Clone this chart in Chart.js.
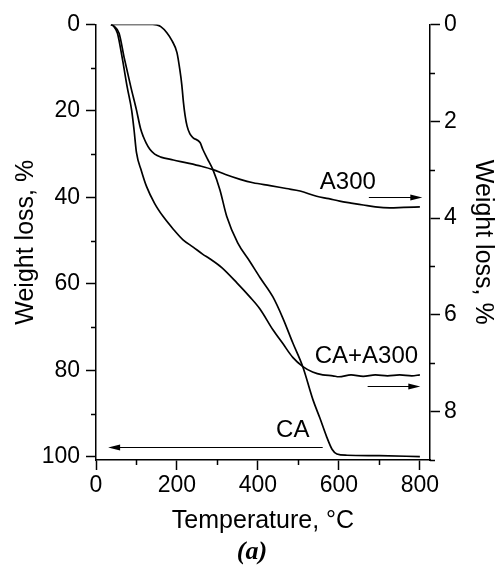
<!DOCTYPE html>
<html>
<head>
<meta charset="utf-8">
<script src="https://cdn.jsdelivr.net/npm/chart.js@4.4.1/dist/chart.umd.min.js"></script>
<style>
  html, body { margin: 0; padding: 0; background: #fff; }
  canvas { display: block; }
</style>
</head>
<body>
<canvas id="c" width="495" height="565"></canvas>
<script>
// ---------- data ----------
// CA : weight loss, % (left axis)
const caT = [37, 100, 140, 150, 160, 175, 188, 200, 207, 212, 216, 220, 225, 232, 240, 257, 264, 275, 289, 306, 323, 350, 380, 405, 437, 462, 486, 511, 536, 553, 570, 583, 595, 620, 700, 800];
const caW = [0, 0, 0, 0.1, 0.5, 1.9, 3.8, 6.5, 10.4, 14, 18, 21, 23.5, 25.3, 26.2, 27.3, 28.9, 31.0, 33.6, 38.2, 44.4, 50.5, 54.8, 58.5, 63, 68, 73.6, 79.2, 86.8, 91, 95.4, 98.2, 99.3, 99.6, 99.7, 99.9];

// A300 : weight loss, % (right axis)
const a300T = [37, 45, 57, 70, 86, 100, 110, 117, 124, 133, 145, 160, 191, 230, 260, 289, 320, 356, 388, 430, 470, 504, 545, 575, 602, 630, 660, 690, 726, 760, 800];
const a300W = [0, 0.04, 0.18, 0.7, 1.29, 1.77, 2.15, 2.32, 2.45, 2.58, 2.68, 2.74, 2.80, 2.87, 2.93, 3.0, 3.1, 3.2, 3.27, 3.33, 3.39, 3.44, 3.55, 3.6, 3.65, 3.69, 3.73, 3.77, 3.79, 3.78, 3.77];

// CA+A300 : weight loss, % (right axis)
const mixT = [37, 44, 53, 65, 77, 88, 94, 100, 112, 125, 145, 166, 190, 215, 240, 264, 281, 310, 348, 380, 405, 437, 462, 486, 511, 535, 560, 585, 600, 630, 660, 690, 720, 750, 780, 800];
const mixW = [0, 0.04, 0.18, 0.7, 1.29, 1.77, 2.18, 2.65, 3.02, 3.35, 3.7, 3.97, 4.22, 4.45, 4.6, 4.75, 4.84, 5.02, 5.34, 5.63, 5.88, 6.31, 6.6, 6.88, 7.07, 7.18, 7.24, 7.26, 7.28, 7.24, 7.27, 7.24, 7.26, 7.24, 7.26, 7.24];

// tick labels
const xTicks = [0, 200, 400, 600, 800];
const xMinor = [100, 300, 500, 700];
const leftTicks = [0, 20, 40, 60, 80, 100];
const leftMinor = [10, 30, 50, 70, 90];
const rightTicks = [0, 2, 4, 6, 8];
const rightMinor = [1, 3, 5, 7, 9];

// curve labels
const curveLabels = ['A300', 'CA+A300', 'CA'];

// ---------- chart ----------
const FONT = '"Liberation Sans", Arial, Helvetica, sans-serif';
const pts = (t, w) => t.map((v, i) => ({x: v, y: w[i]}));

// annotation placement (data coordinates)
const annotations = [
  {text: curveLabels[0], x: 622, y: 3.27, axis: 'yR', arrow: {from: 674, to: 806, y: 3.56}},
  {text: curveLabels[1], x: 668, y: 6.86, axis: 'yR', arrow: {from: 671, to: 801, y: 7.48}},
  {text: curveLabels[2], x: 486, y: 93.8, axis: 'yL', arrow: {from: 560, to: 30, y: 97.8}}
];

const extras = {
  id: 'extras',
  afterDraw(chart) {
    const {ctx} = chart;
    const {x, yL, yR} = chart.scales;
    ctx.save();
    ctx.strokeStyle = '#000';
    ctx.lineWidth = 1.5;
    // minor ticks
    ctx.beginPath();
    xMinor.forEach(v => {
      const p = Math.round(x.getPixelForValue(v)) + 0.5;
      ctx.moveTo(p, x.top); ctx.lineTo(p, x.top + 5);
    });
    leftMinor.forEach(v => {
      const p = Math.round(yL.getPixelForValue(v)) + 0.5;
      ctx.moveTo(yL.right - 5, p); ctx.lineTo(yL.right, p);
    });
    rightMinor.forEach(v => {
      const p = Math.round(yR.getPixelForValue(v)) + 0.5;
      ctx.moveTo(yR.left, p); ctx.lineTo(yR.left + 5, p);
    });
    ctx.stroke();

    // curve labels and arrows
    ctx.fillStyle = '#000';
    ctx.font = '24px ' + FONT;
    ctx.textAlign = 'center';
    ctx.textBaseline = 'middle';
    annotations.forEach(a => {
      const ys = chart.scales[a.axis];
      ctx.fillText(a.text, x.getPixelForValue(a.x), ys.getPixelForValue(a.y));
      const x1 = x.getPixelForValue(a.arrow.from);
      const x2 = x.getPixelForValue(a.arrow.to);
      const yy = Math.round(ys.getPixelForValue(a.arrow.y)) + 0.5;
      const dir = x2 > x1 ? 1 : -1;
      ctx.lineWidth = 1;
      ctx.beginPath();
      ctx.moveTo(x1, yy); ctx.lineTo(x2 - dir * 8, yy);
      ctx.stroke();
      ctx.beginPath();
      ctx.moveTo(x2, yy);
      ctx.lineTo(x2 - dir * 12, yy - 3);
      ctx.lineTo(x2 - dir * 12, yy + 3);
      ctx.closePath();
      ctx.fill();
    });

    // panel caption
    ctx.font = 'italic bold 26px "Liberation Serif", "Times New Roman", serif';
    ctx.fillText('(a)', (x.left + x.right) / 2 - 11, 552);
    ctx.restore();
  }
};

const lineStyle = {
  borderColor: '#000',
  borderWidth: 1.7,
  pointRadius: 0,
  fill: false,
  cubicInterpolationMode: 'monotone'
};

const tickFont = {family: FONT, size: 23};
const titleFont = {family: FONT, size: 25, lineHeight: 1};

new Chart(document.getElementById('c'), {
  type: 'line',
  data: {
    datasets: [
      Object.assign({label: 'CA', data: pts(caT, caW), yAxisID: 'yL'}, lineStyle),
      Object.assign({label: 'A300', data: pts(a300T, a300W), yAxisID: 'yR'}, lineStyle),
      Object.assign({label: 'CA+A300', data: pts(mixT, mixW), yAxisID: 'yR'}, lineStyle)
    ]
  },
  options: {
    responsive: false,
    animation: false,
    events: [],
    layout: {padding: {top: 24.5, left: 0, right: 0, bottom: 0}},
    plugins: {legend: {display: false}, tooltip: {enabled: false}},
    scales: {
      x: {
        type: 'linear',
        min: 0, max: 825,
        afterBuildTicks: s => { s.ticks = xTicks.map(v => ({value: v})); },
        afterFit: s => { s.height = 105; },
        ticks: {font: tickFont, color: '#000', padding: 2, maxRotation: 0, autoSkip: false},
        grid: {display: true, drawOnChartArea: false, drawTicks: true, tickLength: 10, tickWidth: 1.5, color: '#000'},
        border: {display: true, color: '#000', width: 1.5},
        title: {display: true, text: 'Temperature, °C', font: titleFont, color: '#000', padding: {top: 0, bottom: 31}}
      },
      yL: {
        type: 'linear',
        position: 'left',
        reverse: true,
        min: 0, max: 100.7,
        afterBuildTicks: s => { s.ticks = leftTicks.map(v => ({value: v})); },
        afterFit: s => { s.width = 96; },
        ticks: {font: tickFont, color: '#000', padding: 6, autoSkip: false},
        grid: {display: true, drawOnChartArea: false, drawTicks: true, tickLength: 10, tickWidth: 1.5, color: '#000'},
        border: {display: true, color: '#000', width: 1.5},
        title: {display: true, text: 'Weight loss, %', font: titleFont, color: '#000', padding: {top: 13.5, bottom: 0}}
      },
      yR: {
        type: 'linear',
        position: 'right',
        reverse: true,
        min: 0, max: 9,
        afterBuildTicks: s => { s.ticks = rightTicks.map(v => ({value: v})); },
        afterFit: s => { s.width = 65; },
        ticks: {font: tickFont, color: '#000', padding: 4, autoSkip: false},
        grid: {display: true, drawOnChartArea: false, drawTicks: true, tickLength: 10, tickWidth: 1.5, color: '#000'},
        border: {display: true, color: '#000', width: 1.5},
        title: {display: true, text: 'Weight loss, %', font: titleFont, color: '#000', padding: {top: 0, bottom: 0}}
      }
    }
  },
  plugins: [extras]
});
</script>
</body>
</html>
